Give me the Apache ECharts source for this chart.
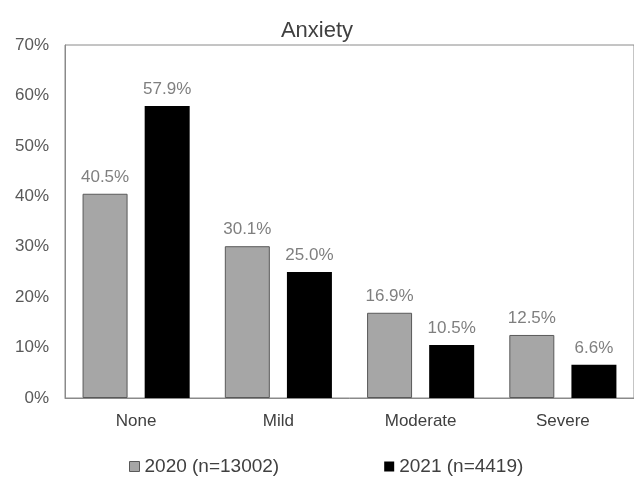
<!DOCTYPE html>
<html>
<head>
<meta charset="utf-8">
<script src="https://cdn.jsdelivr.net/npm/echarts@6/dist/echarts.min.js"></script>
<style>html,body{margin:0;padding:0;background:#fff}#c{width:634px;height:495px}</style>
</head>
<body>
<div id="c"></div>
<script>
var categories = ['None', 'Mild', 'Moderate', 'Severe'];
var series2020 = [40.5, 30.1, 16.9, 12.5];
var series2021 = [57.9, 25.0, 10.5, 6.6];
var yTicks = [0, 10, 20, 30, 40, 50, 60, 70];

var chart = echarts.init(document.getElementById('c'));
var font = '"Liberation Sans", Arial, sans-serif';
chart.setOption({
  animation: false,
  backgroundColor: '#fff',
  title: {
    text: 'Anxiety', left: 'center', top: 20, padding: [0, 0, 0, 0],
    textStyle: { fontFamily: font, fontSize: 22, fontWeight: 'normal', color: '#404040' }
  },
  grid: { left: 65, right: -2, top: 45, bottom: 97, show: true, borderColor: '#8a8a8a', borderWidth: 1, containLabel: false },
  legend: {
    bottom: 19, left: 129, itemGap: 105, itemWidth: 10, itemHeight: 10, padding: 0,
    textStyle: { fontFamily: font, fontSize: 19, color: '#404040' },
    data: [
      { name: '2020 (n=13002)', icon: 'rect', itemStyle: { color: '#a6a6a6', borderColor: '#595959', borderWidth: 1 } },
      { name: '2021 (n=4419)', icon: 'rect', itemStyle: { color: '#000' } }
    ]
  },
  xAxis: {
    type: 'category', data: categories,
    axisLine: { lineStyle: { color: '#8a8a8a' } },
    axisTick: { show: false },
    axisLabel: { fontFamily: font, fontSize: 17, color: '#404040', margin: 15 }
  },
  yAxis: {
    type: 'value', min: yTicks[0], max: yTicks[yTicks.length - 1], interval: 10,
    splitLine: { show: false },
    axisLine: { show: true, lineStyle: { color: '#8a8a8a' } },
    axisTick: { show: false },
    axisLabel: { fontFamily: font, fontSize: 17, color: '#595959', margin: 16, formatter: '{value}%' }
  },
  series: [
    {
      name: '2020 (n=13002)', type: 'bar', data: series2020, barWidth: 45, barGap: '38%',
      itemStyle: { color: '#a6a6a6', borderColor: '#595959', borderWidth: 1 },
      label: { show: true, position: 'top', distance: 8, fontFamily: font, fontSize: 17, color: '#7f7f7f', formatter: function (p) { return p.value.toFixed(1) + '%'; } }
    },
    {
      name: '2021 (n=4419)', type: 'bar', data: series2021, barWidth: 45,
      itemStyle: { color: '#000' },
      label: { show: true, position: 'top', distance: 8, fontFamily: font, fontSize: 17, color: '#7f7f7f', formatter: function (p) { return p.value.toFixed(1) + '%'; } }
    }
  ]
});
</script>
</body>
</html>
